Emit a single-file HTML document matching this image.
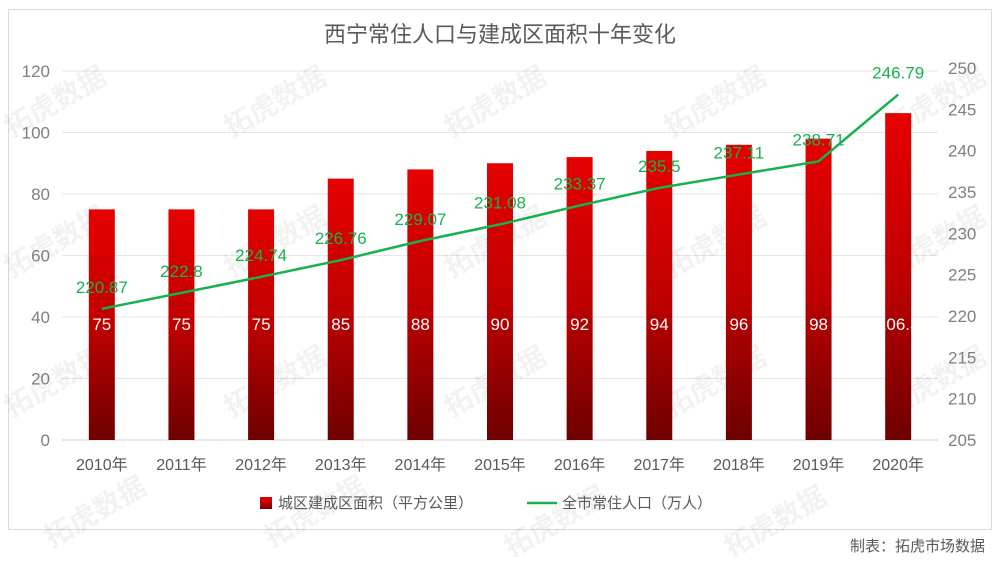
<!DOCTYPE html>
<html><head><meta charset="utf-8"><style>
body{margin:0;background:#fff;}
svg text{font-family:"Liberation Sans","Noto Sans CJK SC",sans-serif;}
</style></head><body>
<svg id="chart" width="1000" height="557" xmlns="http://www.w3.org/2000/svg">
<defs><linearGradient id="bg" x1="0" y1="0" x2="0" y2="1"><stop offset="0" stop-color="#e60000"/><stop offset="0.5" stop-color="#c00000"/><stop offset="1" stop-color="#6e0000"/></linearGradient></defs>
<rect x="8.5" y="9.5" width="983" height="520" fill="#fff" stroke="#d9d9d9"/>
<text x="500" y="42" font-size="22" fill="#595959" text-anchor="middle">西宁常住人口与建成区面积十年变化</text>
<g id="grid"></g><g id="wm"></g><g id="bars"></g><g id="line"></g><g id="axes"></g>
<g>
<rect x="260" y="497" width="12" height="12" fill="url(#bg)"/>
<text x="278" y="508" font-size="15" fill="#595959">城区建成区面积（平方公里）</text>
<line x1="527" y1="503" x2="557" y2="503" stroke="#17b14f" stroke-width="2.5"/>
<text x="562" y="508" font-size="15" fill="#595959">全市常住人口（万人）</text>
</g>
<text x="985" y="551" font-size="15" fill="#595959" text-anchor="end">制表：拓虎市场数据</text>
</svg>
<script>
const categories=["2010年","2011年","2012年","2013年","2014年","2015年","2016年","2017年","2018年","2019年","2020年"];
const areaValues=[75,75,75,85,88,90,92,94,96,98,106.3];
const popValues=[220.87,222.8,224.74,226.76,229.07,231.08,233.37,235.5,237.11,238.71,246.79];
const leftTicks=[0,20,40,60,80,100,120];
const rightTicks=[205,210,215,220,225,230,235,240,245,250];
const NS="http://www.w3.org/2000/svg";
const x0=62,x1=938,y0=440;
const yL=v=>y0-v*(369/120);
const yR=v=>y0-(v-205)*(372/45);
const step=(x1-x0)/categories.length;
const xc=i=>x0+step*(i+0.5);
function mk(tag,attrs,parent,text){const e=document.createElementNS(NS,tag);for(const k in attrs)e.setAttribute(k,attrs[k]);if(text!==undefined)e.textContent=text;document.getElementById(parent).appendChild(e);return e;}
leftTicks.forEach(t=>{
 const l=mk('line',{x1:x0,x2:x1,y1:yL(t),y2:yL(t),stroke:t===0?'#d0d0d0':'#e6e6e6'},'grid');
 
 
 const tx=mk('text',{x:50,y:yL(t)+6,'font-size':17,fill:'#7f7f7f','text-anchor':'end'},'axes',String(t));
 
 
});
rightTicks.forEach(t=>{
 const tx=mk('text',{x:948,y:yR(t)+6,'font-size':17,fill:'#7f7f7f'},'axes',String(t));
 
 
});
const wmPos=[[60,110],[280,110],[500,110],[720,110],[60,250],[280,250],[500,250],[720,250],[940,250],[60,390],[280,390],[500,390],[720,390],[940,390],[100,520],[320,520],[560,530],[780,530],[940,110]];
wmPos.forEach(p=>{
 const w=mk('text',{x:p[0],y:p[1],'font-size':28,'font-weight':'bold',fill:'#000','fill-opacity':0.05,'text-anchor':'middle',transform:`rotate(-30 ${p[0]} ${p[1]})`},'wm','拓虎数据');
 
 
});
const bw=26;
categories.forEach((c,i)=>{
 const v=areaValues[i];
 const r=mk('rect',{x:xc(i)-bw/2,y:yL(v),width:bw,height:y0-yL(v),fill:'url(#bg)'},'bars');
 
 
 const lb=mk('text',{x:xc(i),y:yL(40)+13,'font-size':17,fill:'#fff','text-anchor':'middle'},'bars',String(v));
 
 
 const xl=mk('text',{x:xc(i),y:470,'font-size':16,fill:'#595959','text-anchor':'middle'},'axes',c);
 
 
});
const pl=mk('polyline',{points:popValues.map((v,i)=>xc(i)+','+yR(v)).join(' '),fill:'none',stroke:'#17b14f','stroke-width':2.5},'line');


popValues.forEach((v,i)=>{
 const t=mk('text',{x:xc(i),y:yR(v)-16,'font-size':17,fill:'#17b14f','text-anchor':'middle'},'line',String(v));
 
 
});
</script>
</body></html>
